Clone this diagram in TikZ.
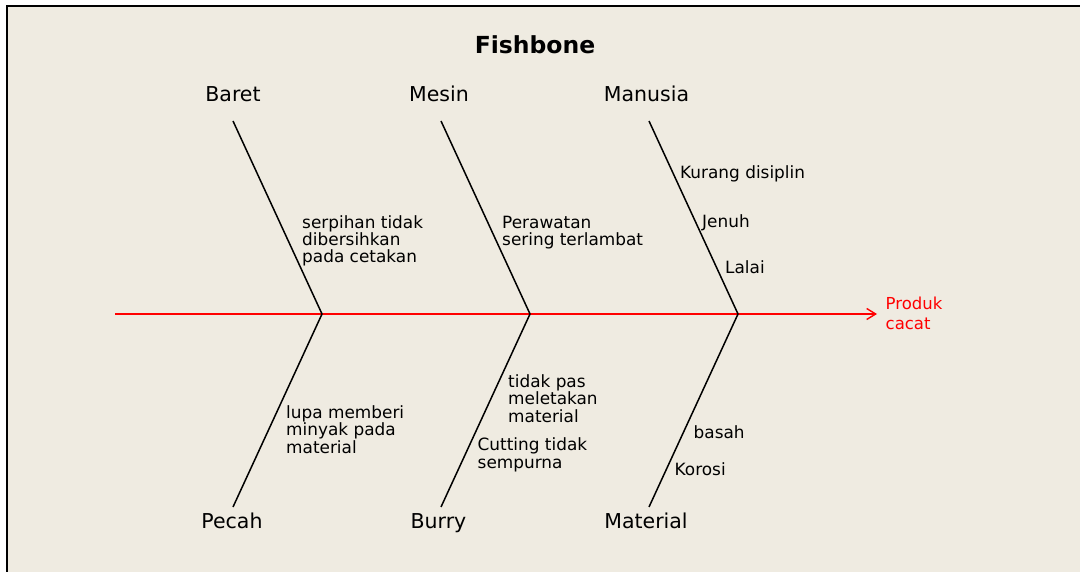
\documentclass[tikz,border=0pt]{standalone}
\usepackage{fontspec}
\setmainfont{DejaVu Sans}
\usetikzlibrary{arrows.meta}
\definecolor{bgbeige}{RGB}{239,235,225}
\tikzset{
  bone/.style={draw=black, line width=1.5pt},
  spine/.style={draw=red, line width=1.3pt, -{Straight Barb[length=9pt,width=11pt,line width=1.4pt]}},
  head/.style={inner sep=0pt, font=\fontsize{20.5}{24}\selectfont, anchor=base},
  cause/.style={inner sep=0pt, align=left, anchor=base west, font=\fontsize{16.9}{17.3}\selectfont},
  effect/.style={inner sep=0pt, align=left, anchor=base west, text=red, font=\fontsize{16.5}{20.3}\selectfont},
  titlestyle/.style={inner sep=0pt, anchor=base, font=\bfseries\fontsize{23.5}{27}\selectfont}
}
\begin{document}
\begin{tikzpicture}[x=1pt,y=-1pt]
\useasboundingbox (0,0) rectangle (1080,572);
\fill[white] (0,0) rectangle (1080,572);
\filldraw[fill=bgbeige, draw=black, line width=1.5pt] (7,6) rectangle (1090,585);

\node[titlestyle] (title) at (535,53.5) {Fishbone};

% spine
\coordinate (s0) at (115,314);
\coordinate (j1) at (322,314);
\coordinate (j2) at (530,314);
\coordinate (j3) at (738,314);
\coordinate (tip) at (877,314);
\draw[spine] (s0) -- (tip);

% bone ends
\coordinate (t1) at (233,121);
\coordinate (t2) at (441,121);
\coordinate (t3) at (649,121);
\coordinate (b1) at (233,507);
\coordinate (b2) at (441,507);
\coordinate (b3) at (649,507);
\draw[bone] (t1) -- (j1) -- (b1);
\draw[bone] (t2) -- (j2) -- (b2);
\draw[bone] (t3) -- (j3) -- (b3);

% category heads
\node[head] (baret) at (233,102) {Baret};
\node[head] (mesin) at (439,102) {Mesin};
\node[head] (manusia) at (646.5,102) {Manusia};
\node[head] (pecah) at (232,528) {Pecah};
\node[head] (burry) at (438.5,528) {Burry};
\node[head] (material) at (646,528) {Material};

% causes (anchor = baseline of last line)
\node[cause] (c1) at (302,262.7) {serpihan tidak\\dibersihkan\\pada cetakan};
\node[cause] (c2) at (502,245.5) {Perawatan\\sering terlambat};
\node[cause] (c3) at (680,179) {Kurang disiplin};
\node[cause] (c4) at (702,228) {Jenuh};
\node[cause] (c5) at (725,274) {Lalai};
\node[cause] (c6) at (286,453) {lupa memberi\\minyak pada\\material};
\node[cause] (c7) at (508,422) {tidak pas\\meletakan\\material};
\node[cause] (c8) at (477.5,468) {Cutting tidak\\sempurna};
\node[cause] (c9) at (693.5,438) {basah};
\node[cause] (c10) at (674.5,475) {Korosi};

% effect
\node[effect] (eff) at (885.5,329.3) {Produk\\cacat};
\end{tikzpicture}
\end{document}
